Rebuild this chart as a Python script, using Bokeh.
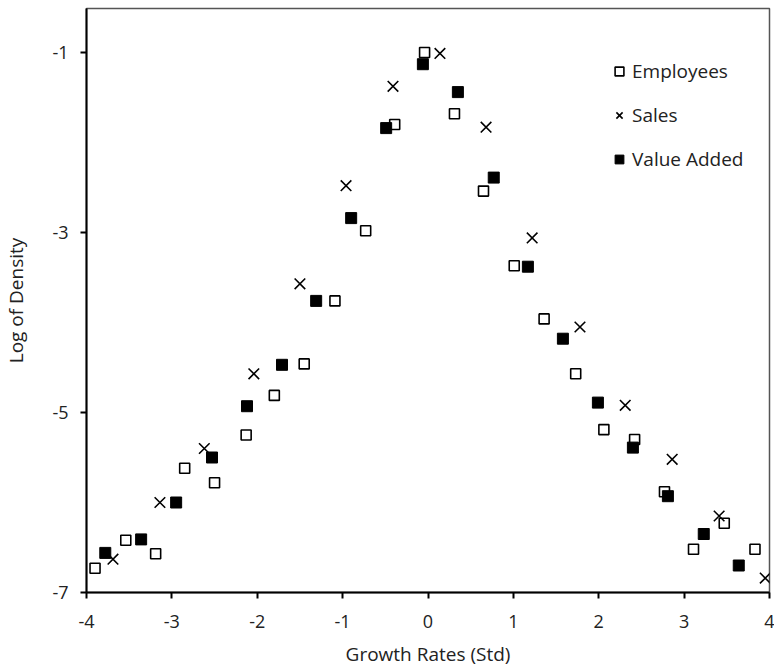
from bokeh.plotting import figure
from bokeh.models import FixedTicker, Legend, LegendItem, Range1d
from bokeh.embed import file_html
from bokeh.resources import INLINE

# Employees (open squares)
emp_x = [-3.90, -3.54, -3.19, -2.85, -2.50, -2.13, -1.80, -1.45, -1.09, -0.73, -0.39, -0.04,
         0.31, 0.65, 1.01, 1.36, 1.73, 2.06, 2.42, 2.77, 3.11, 3.47, 3.83]
emp_y = [-6.73, -6.42, -6.57, -5.62, -5.78, -5.25, -4.81, -4.46, -3.76, -2.98, -1.80, -1.00,
         -1.68, -2.54, -3.37, -3.96, -4.57, -5.19, -5.30, -5.88, -6.52, -6.23, -6.52]

# Sales (x markers)
sales_x = [-3.69, -3.14, -2.62, -2.04, -1.50, -0.96, -0.41, 0.14, 0.68, 1.22, 1.78, 2.31, 2.86, 3.41, 3.95]
sales_y = [-6.63, -6.00, -5.40, -4.57, -3.57, -2.48, -1.375, -1.01, -1.83, -3.06, -4.05, -4.92, -5.52, -6.15, -6.84]

# Value Added (filled squares)
va_x = [-3.78, -3.36, -2.95, -2.53, -2.12, -1.71, -1.31, -0.90, -0.49, -0.06, 0.35, 0.77,
        1.17, 1.58, 1.99, 2.40, 2.81, 3.23, 3.64]
va_y = [-6.56, -6.41, -6.00, -5.50, -4.93, -4.47, -3.76, -2.84, -1.84, -1.13, -1.44, -2.39,
        -3.38, -4.18, -4.89, -5.39, -5.93, -6.35, -6.70]

x_ticks = [-4, -3, -2, -1, 0, 1, 2, 3, 4]
y_ticks = [-7, -5, -3, -1]

FONT = "Open Sans"
TXT = "#222222"

p = figure(width=774, height=670, output_backend="svg", toolbar_location=None,
           x_range=Range1d(-4, 4), y_range=Range1d(-7, -0.511),
           min_border_left=83, min_border_right=5, min_border_top=8, min_border_bottom=78)
p.background_fill_color = "white"
p.border_fill_color = "white"
p.outline_line_color = "#555555"
p.outline_line_width = 1.5
p.xgrid.visible = False
p.ygrid.visible = False

r_emp = p.scatter(emp_x, emp_y, marker="square", size=10, fill_color="white",
                  line_color="black", line_width=1.6)
r_sales = p.scatter(sales_x, sales_y, marker="x", size=15, line_color="black", line_width=1.6)
r_va = p.scatter(va_x, va_y, marker="square", size=11, fill_color="black", line_color="black")

for ax in (p.xaxis[0], p.yaxis[0]):
    ax.axis_line_color = "black"
    ax.axis_line_width = 2
    ax.major_tick_line_color = "black"
    ax.major_tick_line_width = 2
    ax.major_tick_out = 6
    ax.major_tick_in = 0
    ax.minor_tick_line_color = None
    ax.major_label_text_font = FONT
    ax.major_label_text_font_size = "18px"
    ax.major_label_text_color = TXT
    ax.axis_label_text_font = FONT
    ax.axis_label_text_font_size = "19px"
    ax.axis_label_text_font_style = "normal"
    ax.axis_label_text_color = TXT

p.xaxis[0].ticker = FixedTicker(ticks=x_ticks)
p.xaxis[0].major_label_overrides = {t: str(t) for t in x_ticks}
p.xaxis[0].major_label_standoff = 16
p.xaxis[0].axis_label = "Growth Rates (Std)"
p.xaxis[0].axis_label_standoff = 10

p.yaxis[0].ticker = FixedTicker(ticks=y_ticks)
p.yaxis[0].major_label_overrides = {t: str(t) for t in y_ticks}
p.yaxis[0].major_label_standoff = 12
p.yaxis[0].axis_label = "Log of Density"
p.yaxis[0].axis_label_standoff = 20

legend = Legend(items=[
    LegendItem(label="Employees", renderers=[r_emp]),
    LegendItem(label="Sales", renderers=[r_sales]),
    LegendItem(label="Value Added", renderers=[r_va]),
], location=(522, 420))
legend.background_fill_alpha = 0
legend.border_line_color = None
legend.padding = 0
legend.margin = 0
legend.glyph_width = 22
legend.glyph_height = 22
legend.label_height = 22
legend.spacing = 18
legend.label_standoff = 2
legend.label_text_font = FONT
legend.label_text_font_size = "19px"
legend.label_text_color = TXT
p.add_layout(legend)

open("out.html", "w").write(file_html(p, INLINE))
